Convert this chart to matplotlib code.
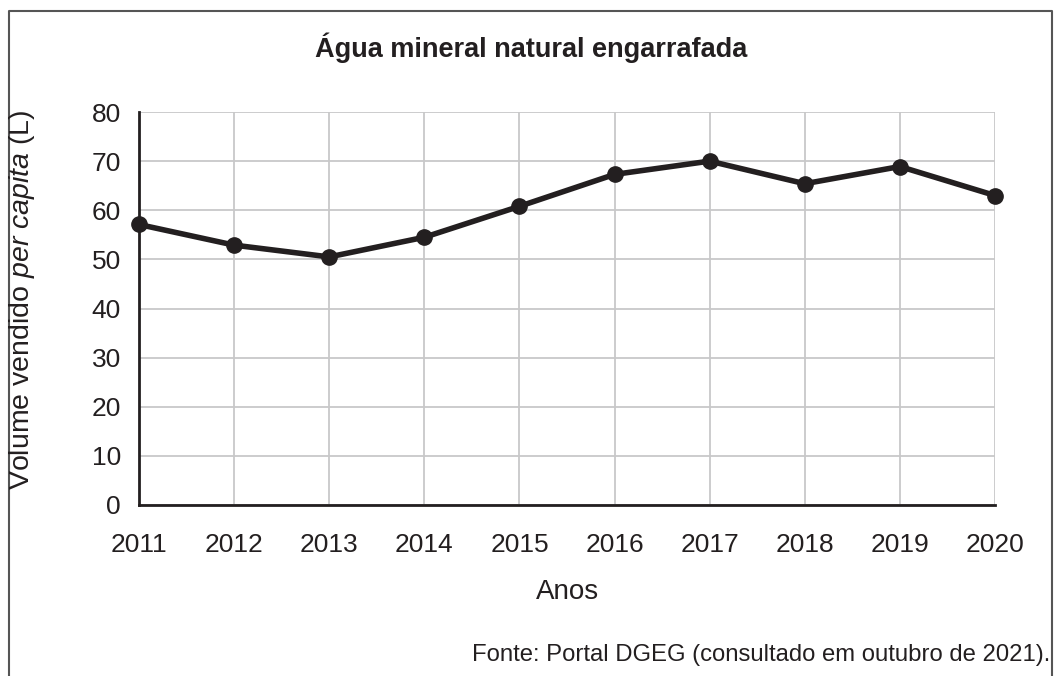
import matplotlib.pyplot as plt
from matplotlib.lines import Line2D

plt.rcParams['font.family'] = ['Liberation Sans', 'DejaVu Sans']
plt.rcParams['mathtext.fontset'] = 'custom'
plt.rcParams['mathtext.rm'] = 'Liberation Sans'
plt.rcParams['mathtext.it'] = 'Liberation Sans:italic'

anos = [2011, 2012, 2013, 2014, 2015, 2016, 2017, 2018, 2019, 2020]
volume = [57.1, 52.9, 50.5, 54.5, 60.8, 67.3, 70.0, 65.4, 68.9, 63.0]
y_ticks = [0, 10, 20, 30, 40, 50, 60, 70, 80]

W, H = 1062, 676
fig = plt.figure(figsize=(W / 100, H / 100), dpi=100)
ax = fig.add_axes([139 / W, 1 - 505 / H, (995 - 139) / W, (505 - 112) / H])

cor = '#231f20'
ax.plot(anos, volume, color=cor, lw=4, marker='o', ms=11, zorder=3, clip_on=False)

ax.set_xlim(2011, 2020)
ax.set_ylim(0, 80)
ax.set_xticks(anos)
ax.set_yticks(y_ticks)
ax.grid(True, color='#c8c8c9', lw=1.3)
ax.set_axisbelow(True)
for s in ['top', 'right']:
    ax.spines[s].set_visible(False)
for s in ['left', 'bottom']:
    ax.spines[s].set_color(cor)
    ax.spines[s].set_linewidth(2)
ax.tick_params(length=0, labelsize=19, colors=cor)
ax.tick_params(axis='x', pad=20)
ax.tick_params(axis='y', pad=13)

fig.text(531 / W, 1 - 48 / H, 'Água mineral natural engarrafada', ha='center', va='center',
         fontsize=19.5, fontweight='bold', color=cor)
fig.text(567 / W, 1 - 592 / H, 'Anos', ha='center', va='center', fontsize=20, color=cor)
fig.text(22 / W, 1 - 300 / H, r'Volume vendido $\it{per\ capita}$ (L)', ha='center', va='center',
         rotation=90, fontsize=20.5, color=cor)
fig.text(1050 / W, 1 - 655 / H, 'Fonte: Portal DGEG (consultado em outubro de 2021).',
         ha='right', va='center', fontsize=17.2, color=cor)

# moldura (esquerda, topo, direita)
borda = '#555555'
fig.add_artist(Line2D([9 / W, 9 / W, 1052 / W, 1052 / W], [0, 1 - 11 / H, 1 - 11 / H, 0],
                      transform=fig.transFigure, color=borda, lw=1.5))

fig.savefig('out.png', dpi=100)
